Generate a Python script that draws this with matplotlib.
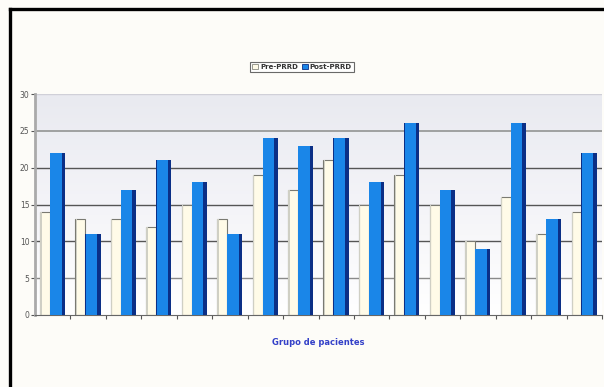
import numpy as np
import matplotlib.pyplot as plt
from matplotlib.lines import Line2D
from matplotlib.patches import Patch
from matplotlib.colors import LinearSegmentedColormap

# values
groups = np.arange(16)
pre_prrd = [14, 13, 13, 12, 15, 13, 19, 17, 21, 15, 19, 15, 10, 16, 11, 14]
post_prrd = [22, 11, 17, 21, 18, 11, 24, 23, 24, 18, 26, 17, 9, 26, 13, 22]
y_ticks = [0, 5, 10, 15, 20, 25, 30]

W, H = 604, 387
fig = plt.figure(figsize=(W / 100, H / 100), dpi=100)
fig.patch.set_facecolor('#fdfcf8')

ax = fig.add_axes([35 / W, 72 / H, 567 / W, 221 / H])

# light gradient background in plot area
grad = np.linspace(0, 1, 100).reshape(-1, 1)
bg_cmap = LinearSegmentedColormap.from_list('bg', ['#ffffff', '#f4f4f8', '#e9eaf0'])
ax.imshow(grad, extent=[-0.5, 15.5, 0, 30], aspect='auto', origin='lower', cmap=bg_cmap, zorder=0)

grid_col = {5: '#8a8a8a', 10: '#555555', 15: '#555555', 20: '#555555', 25: '#9a9a9a', 30: '#d0d0d8'}
for yv, c in grid_col.items():
    ax.axhline(yv, color=c, lw=1.3 if yv == 25 else 1.0, zorder=1)

# pre bars (cream with grey edge)
pre_x = groups - 0.22
ax.bar(pre_x, pre_prrd, width=0.28, color='#fffbe8', edgecolor='#7a7a72', lw=0.8, zorder=2)
ax.bar(pre_x - 0.115, pre_prrd, width=0.04, color='#cfcfc4', lw=0, zorder=2)

# post bars (blue with dark side)
post_x = groups + 0.135
ax.bar(post_x, post_prrd, width=0.43, color='#0b2f86', lw=0, zorder=3)
ax.bar(post_x - 0.045, post_prrd, width=0.32, color='#1a86e8', lw=0, zorder=3)

ax.set_xlim(-0.5, 15.5)
ax.set_ylim(0, 30)
ax.set_yticks(y_ticks)
ax.set_yticklabels([str(v) for v in y_ticks], fontsize=5.5, color='#555555')
ax.set_xticks(np.arange(0.5, 16, 1.0))
ax.set_xticklabels([])
ax.tick_params(axis='x', length=3, color='#555555', direction='out')
ax.tick_params(axis='y', length=3, color='#555555', pad=1)
for s in ['top', 'right']:
    ax.spines[s].set_visible(False)
ax.spines['left'].set_color('#aaaaaa')
ax.spines['left'].set_linewidth(2)
ax.spines['bottom'].set_color('#666666')

ax.set_xlabel('Grupo de pacientes', fontsize=6, color='#3340c8', fontweight='bold', labelpad=10)

handles = [Patch(facecolor='#fffbe8', edgecolor='#8a8a80', lw=0.6),
           Patch(facecolor='#1a86e8', edgecolor='#0b2f86', lw=0.6)]
leg = fig.legend(handles, ['Pre-PRRD', 'Post-PRRD'], loc='center', bbox_to_anchor=(302 / W, 1 - 67 / H),
                 ncol=2, fontsize=5, frameon=True, fancybox=False, handlelength=0.8, handleheight=0.8,
                 handletextpad=0.3, columnspacing=0.6, borderpad=0.3)
leg.get_frame().set_edgecolor('#444444')
leg.get_frame().set_linewidth(0.8)
for t in leg.get_texts():
    t.set_color('#333333')
    t.set_fontweight('bold')

# black frame on the left and top edges
fig.add_artist(Line2D([10 / W, 10 / W], [0, 1 - 9 / H], color='black', lw=2.4, transform=fig.transFigure))
fig.add_artist(Line2D([10 / W, 1], [1 - 9 / H, 1 - 9 / H], color='black', lw=2.4, transform=fig.transFigure))

fig.savefig('out.png', dpi=100, facecolor=fig.get_facecolor())
